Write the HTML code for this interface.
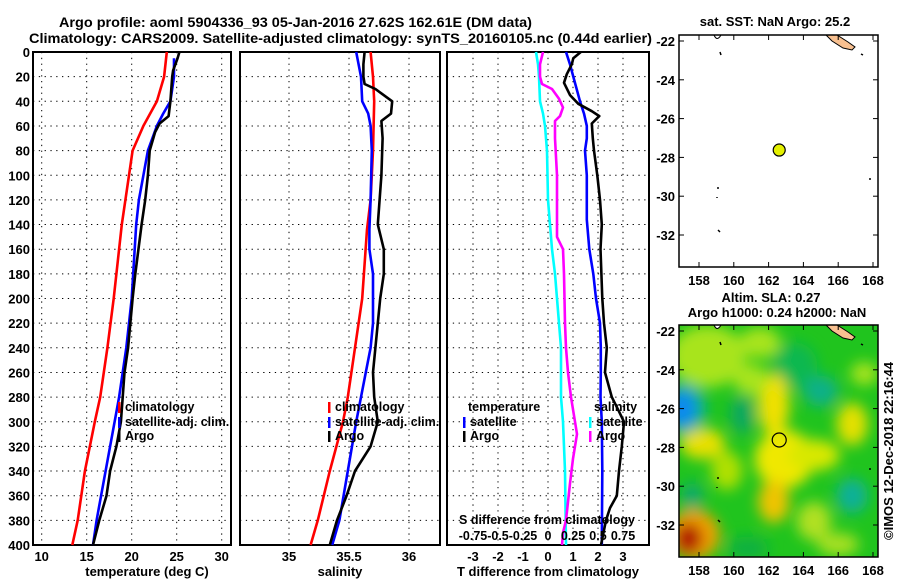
<!DOCTYPE html>
<html><head><meta charset="utf-8"><style>
body{margin:0;background:#fff;}
svg{display:block;font-family:"Liberation Sans",Arial,sans-serif;font-weight:bold;}
</style></head><body>
<svg id="c" width="900" height="580" viewBox="0 0 900 580">
<defs>
<filter id="blur" x="-20%" y="-20%" width="140%" height="140%"><feGaussianBlur stdDeviation="7"/></filter>
<clipPath id="m2clip"><rect x="679" y="325" width="199" height="232"/></clipPath>
</defs>
<g>
<text x="59" y="27" font-size="13.5" textLength="473" lengthAdjust="spacingAndGlyphs">Argo profile: aoml 5904336_93 05-Jan-2016 27.62S 162.61E (DM data)</text>
<text x="29" y="43" font-size="13.5" textLength="623" lengthAdjust="spacingAndGlyphs">Climatology: CARS2009. Satellite-adjusted climatology: synTS_20160105.nc (0.44d earlier)</text>
</g>
<g id="root"></g>
</svg>
<script>
// ---------- data ----------
const depthTicks=[0,20,40,60,80,100,120,140,160,180,200,220,240,260,280,300,320,340,360,380,400];
const tempTicks=[10,15,20,25,30];
const salTicks=[35,35.5,36];
const salTickLabels=["35","35.5","36"];
const tdTicks=[-3,-2,-1,0,1,2,3];
const sdTicks=[-0.75,-0.5,-0.25,0,0.25,0.5,0.75];
const sdTickLabels=["-0.75","-0.5","-0.25","0","0.25","0.5","0.75"];

const depthTClim=[0,20,40,60,80,100,120,140,160,200,240,280,300,340,380,400];
const tempClim=[23.9,23.6,22.8,21.3,20.1,19.7,19.3,18.9,18.6,18.0,17.3,16.5,15.9,14.8,14.0,13.4];
const depthTSat=[5,20,40,50,60,80,100,120,140,200,240,280,300,340,380,400];
const tempSat=[24.7,24.7,24.3,23.5,22.8,21.8,21.3,20.8,20.5,20.0,19.4,18.6,18.1,17.1,16.1,15.7];
const depthTArgo=[0,5,15,20,40,52,58,65,80,100,120,140,180,200,240,260,280,300,320,340,360,380,400];
const tempArgo=[25.3,25.1,24.6,24.5,24.3,24.1,23.1,22.6,22.0,21.8,21.5,21.1,20.4,20.1,19.6,19.2,19.0,18.8,18.3,17.6,17.2,16.4,15.7];

const depthSClim=[0,20,40,80,120,144,200,240,280,300,340,380,400];
const salClim=[35.68,35.70,35.71,35.70,35.68,35.65,35.61,35.55,35.49,35.45,35.34,35.24,35.18];
const depthSSat=[0,20,40,50,60,80,120,144,160,180,200,220,240,260,280,300,340,380,400];
const salSat=[35.56,35.60,35.61,35.66,35.68,35.69,35.68,35.67,35.67,35.70,35.70,35.70,35.68,35.64,35.60,35.56,35.49,35.42,35.36];
const depthSArgo=[0,10,20,26,30,40,50,56,70,100,140,160,180,200,220,240,260,280,300,320,340,360,380,400];
const salArgo=[35.63,35.62,35.62,35.63,35.72,35.86,35.85,35.77,35.78,35.77,35.74,35.79,35.79,35.76,35.74,35.72,35.70,35.71,35.74,35.68,35.55,35.48,35.40,35.34];

const depthDT=[0,10,20,40,50,60,70,80,100,136,160,180,200,220,240,260,280,300,340,400];
const tDiffSat=[0.72,0.88,1.01,1.28,1.44,1.55,1.55,1.48,1.55,1.55,1.65,1.81,1.92,2.08,2.11,2.11,2.10,2.15,2.17,2.15];
const depthDTArgo=[0,5,10,18,25,35,42,48,52,58,70,80,100,120,140,160,200,220,240,260,280,290,300,320,340,360,370,380,400];
const tDiffArgo=[1.31,1.01,0.95,0.75,0.64,0.88,1.21,1.75,2.05,1.75,1.79,1.84,1.97,2.08,2.15,2.10,2.17,2.24,2.35,2.28,2.55,2.80,3.04,2.95,2.84,2.75,2.48,2.32,2.12];
const depthDS=[0,10,20,40,50,60,80,120,140,160,180,200,220,240,260,280,300,340,400];
const sDiffSat=[-0.12,-0.10,-0.09,-0.08,-0.05,-0.03,-0.01,0.00,0.02,0.04,0.07,0.09,0.11,0.13,0.13,0.13,0.15,0.17,0.18];
const depthDSArgo=[0,10,20,26,30,38,45,52,56,70,100,140,150,160,180,220,240,260,280,290,310,330,350,380,390,400];
const sDiffArgo=[-0.05,-0.08,-0.08,-0.06,0.04,0.11,0.15,0.12,0.07,0.07,0.09,0.09,0.09,0.15,0.16,0.17,0.18,0.20,0.23,0.25,0.29,0.25,0.22,0.18,0.15,0.14];

const latTicks=[-22,-24,-26,-28,-30,-32];
const lonTicks=[158,160,162,164,166,168];
const argoLon=[162.61];
const argoLat=[-27.62];

// ---------- helpers ----------
const NS="http://www.w3.org/2000/svg";
const root=document.getElementById('root');
function mk(tag,attrs,parent,txt){const e=document.createElementNS(NS,tag);for(const k in attrs)e.setAttribute(k,attrs[k]);if(txt!==undefined)e.textContent=txt;(parent||root).appendChild(e);return e;}
const yD=d=>52+d*(493/400);

function panel(name,x0,x1,xs,gridVals){
  const g=mk('g',{});
  
  
  gridVals.forEach(v=>{const l=mk('line',{x1:xs(v),x2:xs(v),y1:52,y2:545,stroke:'#000','stroke-width':1,'stroke-dasharray':'1.3,4.5'},g);
    
    });
  depthTicks.forEach(d=>{if(d===0||d===400)return;const l=mk('line',{x1:x0,x2:x1,y1:yD(d),y2:yD(d),stroke:'#000','stroke-width':1,'stroke-dasharray':'1.3,4.5'},g);
    
    });
  const r=mk('rect',{x:x0,y:52,width:x1-x0,height:493,fill:'none',stroke:'#000','stroke-width':2},g);
  
  
  return g;
}
function series(g,name,xs,vals,depths,color){
  const pts=vals.map((v,i)=>xs(v).toFixed(1)+','+yD(depths[i]).toFixed(1)).join(' ');
  const p=mk('polyline',{points:pts,fill:'none',stroke:color,'stroke-width':2.6,'stroke-linejoin':'round'},g);
  
  
}
function legend(g,x,y,color,label,name){
  const b=mk('rect',{x:x,y:y-9,width:2.5,height:11,fill:color},g);
  
  
  const t=mk('text',{x:x+7,y:y,'font-size':12.5},g,label);
  
  
}

// ---------- panel 1 temperature ----------
const xT=v=>41.7+(v-10)*9;
const g1=panel('temperature-panel',33,231,xT,tempTicks);
series(g1,'temp-climatology-line',xT,tempClim,depthTClim,'#ff0000');
series(g1,'temp-satellite-line',xT,tempSat,depthTSat,'#0000ff');
series(g1,'temp-argo-line',xT,tempArgo,depthTArgo,'#000000');
depthTicks.forEach(d=>{const t=mk('text',{x:30,y:yD(d)+5,'font-size':13,'text-anchor':'end'},g1,String(d));
  
  });
tempTicks.forEach(v=>{const t=mk('text',{x:xT(v),y:561,'font-size':13,'text-anchor':'middle'},g1,String(v));
  
  });
{const t=mk('text',{x:147,y:576,'font-size':13,'text-anchor':'middle'},g1,'temperature (deg C)');
 
 }
legend(g1,118,411,'#ff0000','climatology','legend-climatology');
legend(g1,118,426,'#0000ff','satellite-adj. clim.','legend-satellite');
legend(g1,118,440,'#000000','Argo','legend-argo');

// ---------- panel 2 salinity ----------
const xS=v=>289+(v-35)*120;
const g2=panel('salinity-panel',240,440,xS,salTicks);
series(g2,'sal-climatology-line',xS,salClim,depthSClim,'#ff0000');
series(g2,'sal-satellite-line',xS,salSat,depthSSat,'#0000ff');
series(g2,'sal-argo-line',xS,salArgo,depthSArgo,'#000000');
salTicks.forEach((v,i)=>{const t=mk('text',{x:xS(v),y:561,'font-size':13,'text-anchor':'middle'},g2,salTickLabels[i]);
  
  });
{const t=mk('text',{x:340,y:576,'font-size':13,'text-anchor':'middle'},g2,'salinity');
 
 }
legend(g2,328,411,'#ff0000','climatology','legend-climatology');
legend(g2,328,426,'#0000ff','satellite-adj. clim.','legend-satellite');
legend(g2,328,440,'#000000','Argo','legend-argo');

// ---------- panel 3 differences ----------
const xDT=v=>548+v*25;
const xDS=v=>548+v*100;
const g3=panel('difference-panel',447,649,xDT,tdTicks);
series(g3,'sdiff-satellite-line',xDS,sDiffSat,depthDS,'#00ffff');
series(g3,'sdiff-argo-line',xDS,sDiffArgo,depthDSArgo,'#ff00ff');
series(g3,'tdiff-satellite-line',xDT,tDiffSat,depthDT,'#0000ff');
series(g3,'tdiff-argo-line',xDT,tDiffArgo,depthDTArgo,'#000000');
tdTicks.forEach(v=>{const t=mk('text',{x:xDT(v),y:561,'font-size':13,'text-anchor':'middle'},g3,String(v));
  
  });
sdTicks.forEach((v,i)=>{const t=mk('text',{x:xDS(v),y:540,'font-size':12.5,'text-anchor':'middle'},g3,sdTickLabels[i]);
  
  });
{const t=mk('text',{x:459,y:524,'font-size':12.5,textLength:176,lengthAdjust:'spacingAndGlyphs'},g3,'S difference from climatology');
 
 }
{const t=mk('text',{x:548,y:576,'font-size':13,'text-anchor':'middle'},g3,'T difference from climatology');
 
 }
{const t=mk('text',{x:468,y:411,'font-size':12.5},g3,'temperature');
 
 }
{const t=mk('text',{x:594,y:411,'font-size':12.5},g3,'salinity');
 
 }
legend(g3,463,426,'#0000ff','satellite','legend-t-satellite');
legend(g3,463,440,'#000000','Argo','legend-t-argo');
legend(g3,589,426,'#00ffff','satellite','legend-s-satellite');
legend(g3,589,440,'#ff00ff','Argo','legend-s-argo');

// ---------- maps ----------
const lonX=lon=>699+(lon-158)*17.4;
const latY=(lat,off)=>41+off+(-22-lat)*19.4;
const fieldBlobs=[
 [158.5,-23.3,2.2,1.6,'#a8e41c'],[161.5,-22.6,1.2,0.8,'#a8e41c'],[163.5,-23.8,1.3,1.2,'#10b850'],
 [162.3,-25.8,0.9,1.6,'#f0e000'],[162.9,-28.6,1.7,1.5,'#f0e800'],[162.3,-30.8,0.9,1.1,'#f0c400'],
 [164.6,-28.4,1.5,0.8,'#d8e800'],[166.8,-26.8,0.9,1.1,'#e4e000'],[158.2,-27.8,1.3,0.8,'#e8e000'],
 [159.6,-29.2,0.9,1.0,'#b0e000'],[161,-24.5,1,0.8,'#a8e41c'],[167.5,-24.2,0.8,0.6,'#a8e41c'],
 [165,-25.1,1.0,0.8,'#10b088'],[166.8,-30.5,0.9,0.9,'#10b098'],[157.6,-30.5,0.6,0.7,'#10a870'],
 [160.5,-26.3,0.7,1.0,'#10a860'],[157.2,-26,1.2,1.3,'#10b0a0'],[157.0,-26,0.8,0.9,'#1088f0'],
 [164.6,-31.8,1.0,1.0,'#b0e020'],[166,-33,1.2,0.6,'#a8e020'],[160.8,-33.2,1.2,0.6,'#10b040'],
 [157.7,-32.5,1.5,1.3,'#f0a000'],[157.4,-32.7,0.8,0.8,'#b01000']
];
function drawMap(name,off,isSla){
  const g=mk('g',{});
  
  
  const y0=35+off, y1=267+off;
  if(isSla){
    const fg=mk('g',{'clip-path':'url(#m2clip)'},g);
    
    
    mk('rect',{x:679,y:y0,width:199,height:232,fill:'#20c41e'},fg);
    const bg=mk('g',{filter:'url(#blur)'},fg);
    fieldBlobs.forEach(b=>{const e=mk('ellipse',{cx:lonX(b[0]),cy:latY(b[1],off),rx:b[2]*17.4,ry:b[3]*19.4,fill:b[4]},bg);
      
      });
  }
  const land=mk('polygon',{points:[[826,35],[837,35],[848,42],[855,47],[852,50],[843,48],[832,41]].map(p=>p[0]+','+(p[1]+off)).join(' '),fill:'#f8c090',stroke:'#000','stroke-width':1},g);
  
  
  [[720,52,721,55],[718,187,718,189],[717,197,717,198],[718,230,720,232],[861,54,863,55],[870,178,870,180]].forEach(s=>{
    mk('line',{x1:s[0],y1:s[1]+off,x2:s[2],y2:s[3]+off,stroke:'#000','stroke-width':1.5},g);});
  mk('path',{d:`M714 ${35+off} Q717 ${42+off} 721 ${35+off}`,fill:'#fff',stroke:'#000','stroke-width':1},g);
  const fr=mk('rect',{x:679,y:y0,width:199,height:232,fill:'none',stroke:'#000','stroke-width':1.5},g);
  
  
  latTicks.forEach(v=>{const y=latY(v,off);
    mk('line',{x1:679,x2:684,y1:y,y2:y,stroke:'#000'},g);mk('line',{x1:873,x2:878,y1:y,y2:y,stroke:'#000'},g);
    const t=mk('text',{x:675,y:y+5,'font-size':13,'text-anchor':'end'},g,String(v));
    
    });
  lonTicks.forEach(v=>{const x=lonX(v);
    mk('line',{x1:x,x2:x,y1:y0,y2:y0+5,stroke:'#000'},g);mk('line',{x1:x,x2:x,y1:y1-5,y2:y1,stroke:'#000'},g);
    const t=mk('text',{x:x,y:y1+18,'font-size':13,'text-anchor':'middle'},g,String(v));
    
    });
  argoLon.forEach((lon,i)=>{const c=mk('circle',{cx:lonX(lon),cy:latY(argoLat[i],off),r:isSla?7:6,fill:isSla?'none':'#e4f000',stroke:'#000','stroke-width':1.2},g);
    
    });
  return g;
}
const gm1=drawMap('sst-map',0,false);
{const t=mk('text',{x:775,y:26,'font-size':13,'text-anchor':'middle'},gm1,'sat. SST: NaN Argo: 25.2');
 
 }
const gm2=drawMap('sla-map',290,true);
{const t=mk('text',{x:771,y:302,'font-size':13,'text-anchor':'middle'},gm2,'Altim. SLA: 0.27');
 
 }
{const t=mk('text',{x:777,y:317,'font-size':13,'text-anchor':'middle'},gm2,'Argo h1000: 0.24 h2000: NaN');
 
 }
{const t=mk('text',{x:0,y:0,'font-size':13,'text-anchor':'middle',transform:'translate(893,451) rotate(-90)'},gm2,'©IMOS 12-Dec-2018 22:16:44');
 
 }
</script>
</body></html>
